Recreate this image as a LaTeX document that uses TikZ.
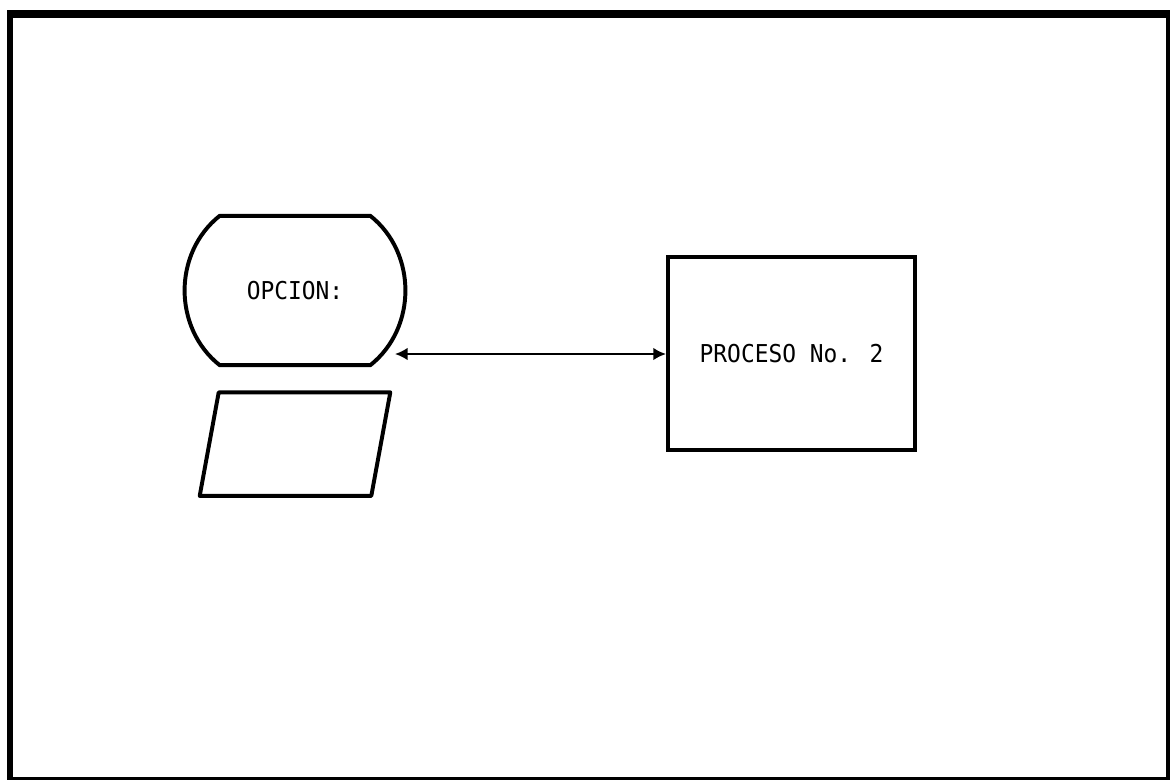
\documentclass[tikz,border=0pt]{standalone}
\usepackage{fontspec}
\newfontfamily\matriz[FakeStretch=0.93]{DejaVu Sans Mono}
\usepackage{tikz}
\usetikzlibrary{arrows.meta}
\tikzstyle{pantalla} = 
[
	rectangle, 
	minimum width = 3.75cm, 
	minimum height = 3.72cm, 
	inner sep = 0pt,
	text centered, 
	font = \matriz\fontsize{17.5}{20}\selectfont
]
\tikzstyle{datos} = 
	[
		rectangle, 
		minimum width = 4.75cm, 
		minimum height = 2.575cm, 
		inner sep = 0pt
	]
\tikzstyle{process} = 
	[
		rectangle, 
		minimum width = 6.18cm, 
		minimum height = 4.83cm, 
		text centered,
		draw = black, 
		line width = 2.8pt,
		font = \matriz\fontsize{17.5}{20}\selectfont
	]
\tikzstyle{linea} = [line width = 2.8pt, line join = round]
\tikzstyle{arrow} = [line width = 1.4pt, <->, >={Latex[length=9pt,width=9pt]}]

\begin{document}
\begin{tikzpicture}[x = 0.025cm, y = -0.025cm, node distance = 3.84cm]
	\useasboundingbox (0,0) rectangle (1171,783);
	
	% marco
	\draw [line width = 5.7pt] (7,14) -- (1170,14);
	\draw [line width = 4.3pt] (10,10) -- (10,780);
	\draw [line width = 2.8pt] (1168,12) -- (1168,780);
	\draw [line width = 2.2pt] (7,778.5) -- (1170,778.5);
	
	\node 
	(opcion) 
	[pantalla] 
	at (295,290.5)
	{OPCION:};
	
	\draw [linea] (opcion.north west) -- (opcion.north east)
		.. controls ([xshift = 1.17cm, yshift = -0.93cm]opcion.north east)
		and ([xshift = 1.17cm, yshift = 0.93cm]opcion.south east) .. (opcion.south east)
		-- (opcion.south west)
		.. controls ([xshift = -1.17cm, yshift = 0.93cm]opcion.south west)
		and ([xshift = -1.17cm, yshift = -0.93cm]opcion.north west) .. cycle;
	
	\node
	(entrada)
	[
		datos,
		below of = opcion
	]
	{};
	
	\draw [linea] ([xshift = 0.475cm]entrada.north west) -- (entrada.north east)
		-- ([xshift = -0.475cm]entrada.south east) -- (entrada.south west) -- cycle;
	
	\node
	(proceso)
	[
		process,
		right of = opcion,
		node distance = 12.41cm,
		yshift = -1.58cm
	]
	{
		PROCESO No. 2
	};
	
	\coordinate (izq) at (395,354);
	
	\draw [arrow] (izq) -- (izq -| proceso.west);
	
\end{tikzpicture}
\end{document}
